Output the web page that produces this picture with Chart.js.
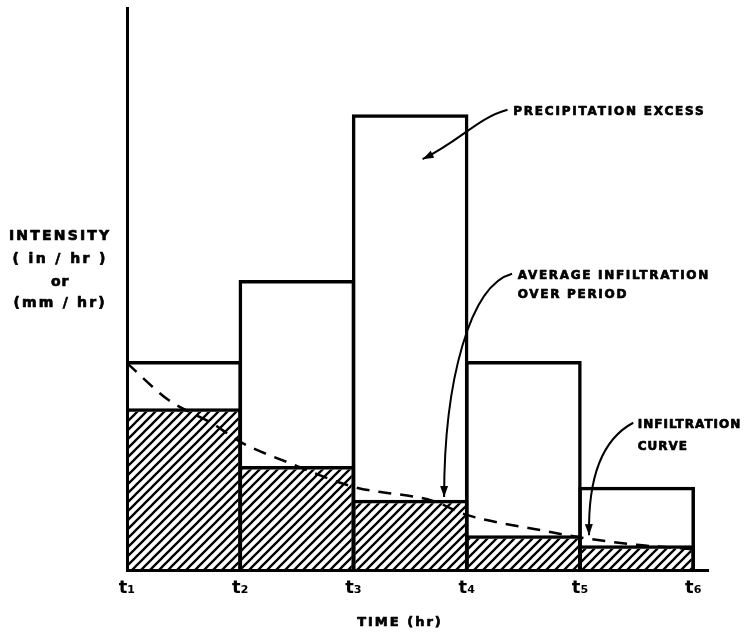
<!DOCTYPE html>
<html>
<head>
<meta charset="utf-8">
<script src="https://cdn.jsdelivr.net/npm/chart.js@4"></script>
<style>
  html, body { margin: 0; padding: 0; background: #fff; }
  #wrap { width: 746px; height: 635px; position: relative; }
</style>
</head>
<body>
<div id="wrap"><canvas id="chart"></canvas></div>
<script>
// ---- data (time in periods, intensity in relative units 0-100) ----
const tickValues = [0, 1, 2, 3, 4, 5];
const tickLabels = ['t\u2081', 't\u2082', 't\u2083', 't\u2084', 't\u2085', 't\u2086'];
const periodMid = [0.5, 1.5, 2.5, 3.5, 4.5];
const rainfall = [37.2, 51.6, 81.1, 37.2, 14.8];
const avgInfiltration = [28.8, 18.5, 12.5, 6.2, 4.4];
const curveTime = [0, 0.37, 0.76, 1.0, 1.44, 2.0, 2.7, 3.0, 3.65, 4.0, 4.5, 5.0];
const curveRate = [36.8, 30.2, 26.0, 22.8, 19.0, 14.8, 12.3, 9.8, 7.1, 5.8, 4.5, 3.7];

const INK = '#000';
const FONT = '"DejaVu Sans", Arial, sans-serif';

// diagonal hatch "////"
function makeHatch() {
    const s = 9;
    const c = document.createElement('canvas');
    c.width = s; c.height = s;
    const g = c.getContext('2d');
    g.strokeStyle = INK;
    g.lineWidth = 2.3;
    g.beginPath();
    g.moveTo(-2, s + 2); g.lineTo(s + 2, -2);
    g.moveTo(-2, 2); g.lineTo(2, -2);
    g.moveTo(s - 2, s + 2); g.lineTo(s + 2, s - 2);
    g.stroke();
    return g.createPattern(c, 'repeat');
}

// annotation text + curved arrows, placed in data units
const notes = {
    id: 'notes',
    afterDraw(chart) {
        const ctx = chart.ctx;
        const xs = chart.scales.x, ys = chart.scales.y;
        const P = (x, y) => [xs.getPixelForValue(x), ys.getPixelForValue(y)];

        ctx.save();
        ctx.fillStyle = INK;
        ctx.strokeStyle = INK;
        ctx.textBaseline = 'middle';
        ctx.lineJoin = 'round';

        function text(str, x, y, size, align, spacing) {
            const p = P(x, y);
            ctx.font = 'bold ' + size + 'px ' + FONT;
            ctx.letterSpacing = (spacing || 0) + 'px';
            ctx.textAlign = align;
            ctx.lineWidth = 0.7;
            ctx.fillText(str, p[0], p[1]);
            ctx.strokeText(str, p[0], p[1]);
        }

        function arrow(a, c1, c2, b) {
            const p0 = P(a[0], a[1]), p1 = P(c1[0], c1[1]), p2 = P(c2[0], c2[1]), p3 = P(b[0], b[1]);
            ctx.lineWidth = 2;
            ctx.beginPath();
            ctx.moveTo(p0[0], p0[1]);
            ctx.bezierCurveTo(p1[0], p1[1], p2[0], p2[1], p3[0], p3[1]);
            ctx.stroke();
            const ang = Math.atan2(p3[1] - p2[1], p3[0] - p2[0]);
            const L = 11, W = 4;
            ctx.beginPath();
            ctx.moveTo(p3[0], p3[1]);
            ctx.lineTo(p3[0] - L * Math.cos(ang) + W * Math.sin(ang), p3[1] - L * Math.sin(ang) - W * Math.cos(ang));
            ctx.lineTo(p3[0] - L * Math.cos(ang) - W * Math.sin(ang), p3[1] - L * Math.sin(ang) + W * Math.cos(ang));
            ctx.closePath();
            ctx.fill();
        }

        // y axis title
        text('INTENSITY', -0.59, 59.4, 14, 'center', 2.2);
        text('( in / hr )', -0.59, 55.3, 14, 'center', 2.4);
        text('or', -0.59, 51.1, 14, 'center', 1);
        text('(mm / hr)', -0.59, 47.5, 14, 'center', 2.2);
        // x axis title
        text('TIME (hr)', 2.41, -9.4, 13, 'center', 2);

        // callouts
        text('PRECIPITATION EXCESS', 3.41, 81.5, 12, 'left', 1.8);
        arrow([3.36, 81.9], [3.1, 80.5], [2.95, 76.5], [2.61, 73.1]);

        text('AVERAGE INFILTRATION', 3.45, 52.3, 12, 'left', 1.7);
        text('OVER PERIOD', 3.45, 48.9, 12, 'left', 1.7);
        arrow([3.40, 52.7], [3.03, 50.7], [2.80, 33.8], [2.80, 13.0]);

        text('INFILTRATION', 4.51, 25.8, 12, 'left', 1.0);
        text('CURVE', 4.51, 21.9, 12, 'left', 1.0);
        arrow([4.47, 26.2], [4.18, 23.1], [4.07, 16.0], [4.08, 6.2]);

        ctx.restore();
    }
};

const hatch = makeHatch();

new Chart(document.getElementById('chart'), {
    type: 'bar',
    data: {
        datasets: [
            {
                type: 'line',
                order: 1,
                data: curveTime.map((t, i) => ({ x: t, y: curveRate[i] })),
                borderColor: INK,
                borderWidth: 2.5,
                borderDash: [13, 9],
                pointRadius: 0,
                cubicInterpolationMode: 'monotone',
                fill: false
            },
            {
                order: 2,
                data: periodMid.map((t, i) => ({ x: t, y: rainfall[i] })),
                backgroundColor: 'rgba(0,0,0,0)',
                borderColor: INK,
                borderWidth: 3.5,
                borderSkipped: 'bottom',
                grouped: false,
                barPercentage: 1.03,
                categoryPercentage: 1
            },
            {
                order: 3,
                data: periodMid.map((t, i) => ({ x: t, y: avgInfiltration[i] })),
                backgroundColor: hatch,
                borderColor: INK,
                borderWidth: 3.5,
                borderSkipped: 'bottom',
                grouped: false,
                barPercentage: 1.03,
                categoryPercentage: 1
            }
        ]
    },
    options: {
        responsive: true,
        maintainAspectRatio: false,
        animation: false,
        layout: { padding: { top: 8, right: 38, left: 0, bottom: 0 } },
        plugins: {
            legend: { display: false },
            tooltip: { enabled: false }
        },
        scales: {
            x: {
                type: 'linear',
                min: 0,
                max: 5.13,
                offset: false,
                grid: { display: false, drawTicks: false },
                border: { display: true, color: INK, width: 3 },
                afterBuildTicks: (scale) => { scale.ticks = tickValues.map(v => ({ value: v })); },
                afterFit: (scale) => { scale.height = 65; },
                ticks: {
                    autoSkip: false,
                    maxRotation: 0,
                    padding: 8,
                    color: INK,
                    font: { family: FONT, size: 18, weight: 'bold' },
                    callback: (v) => tickLabels[tickValues.indexOf(v)]
                }
            },
            y: {
                min: 0,
                max: 100,
                grid: { display: false, drawTicks: false },
                border: { display: true, color: INK, width: 3 },
                afterFit: (scale) => { scale.width = 127; },
                ticks: { display: false }
            }
        }
    },
    plugins: [notes]
});
</script>
</body>
</html>
